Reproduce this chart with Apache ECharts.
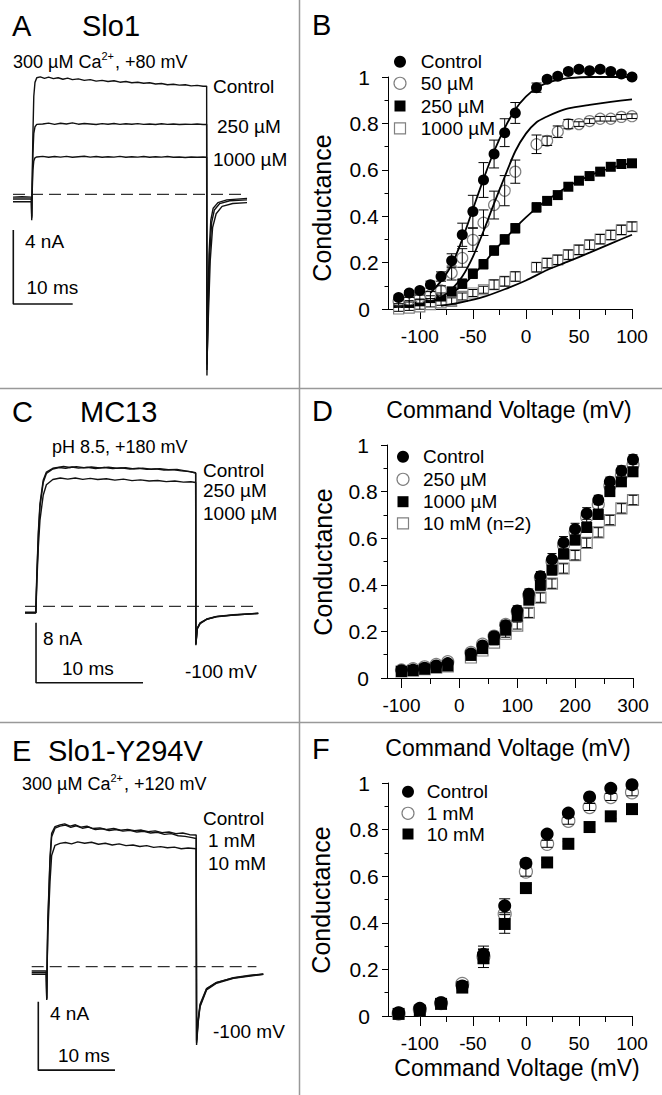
<!DOCTYPE html>
<html>
<head>
<meta charset="utf-8">
<script src="https://cdn.jsdelivr.net/npm/echarts@6/dist/echarts.min.js"></script>
<style>
  html, body { margin: 0; padding: 0; background: #fff; }
  #main { width: 662px; height: 1095px; }
</style>
</head>
<body>
<div id="main"></div>
<script>
var FONT = 'Arial, "Liberation Sans", sans-serif';

// ---- panel B : Slo1 G-V ----
var vB = [-120, -110, -100, -90, -80, -70, -60, -50, -40, -30, -20, -10, 10, 20, 30, 40, 50, 60, 70, 80, 90, 100];
var gB_control = [0.05, 0.069, 0.08, 0.105, 0.14, 0.208, 0.32, 0.42, 0.556, 0.668, 0.76, 0.845, 0.954, 0.99, 1.003, 1.024, 1.033, 1.027, 1.033, 1.024, 1.013, 1.0];
var eB_control = [0.01, 0.01, 0.01, 0.015, 0.02, 0.03, 0.05, 0.07, 0.075, 0.06, 0.06, 0.045, 0.02, 0.01, 0.01, 0.01, 0.01, 0.01, 0.01, 0.01, 0.01, 0.01];
var gB_50 = [0.033, 0.04, 0.05, 0.06, 0.08, 0.155, 0.22, 0.298, 0.372, 0.448, 0.51, 0.592, 0.71, 0.725, 0.764, 0.797, 0.797, 0.81, 0.82, 0.82, 0.828, 0.831];
var eB_50 = [0.01, 0.01, 0.01, 0.015, 0.02, 0.03, 0.04, 0.05, 0.055, 0.06, 0.065, 0.05, 0.04, 0.02, 0.025, 0.02, 0.01, 0.01, 0.01, 0.01, 0.01, 0.01];
var gB_250 = [0.026, 0.026, 0.033, 0.047, 0.054, 0.076, 0.109, 0.152, 0.193, 0.252, 0.30, 0.348, 0.438, 0.466, 0.491, 0.527, 0.553, 0.573, 0.592, 0.613, 0.625, 0.628];
var eB_250 = [0.01, 0.01, 0.01, 0.01, 0.015, 0.015, 0.02, 0.02, 0.02, 0.02, 0.02, 0.02, 0.02, 0.015, 0.015, 0.015, 0.015, 0.015, 0.015, 0.015, 0.015, 0.015];
var gB_1000 = [0.0, 0.004, 0.009, 0.019, 0.026, 0.033, 0.054, 0.069, 0.083, 0.105, 0.119, 0.14, 0.18, 0.198, 0.212, 0.234, 0.255, 0.277, 0.301, 0.319, 0.341, 0.355];
var eB_1000 = [0.01, 0.01, 0.01, 0.01, 0.01, 0.015, 0.015, 0.015, 0.015, 0.02, 0.02, 0.02, 0.02, 0.02, 0.02, 0.02, 0.02, 0.02, 0.02, 0.02, 0.02, 0.02];
// fitted curves
var fitB_control_v = [-90, -80, -70, -60, -50, -40, -30, -20, -10, 0, 10, 20, 30, 40, 60, 100];
var fitB_control_g = [0.07, 0.12, 0.19, 0.30, 0.43, 0.56, 0.68, 0.78, 0.86, 0.915, 0.953, 0.975, 0.988, 0.995, 1.0, 1.0];
var fitB_50_v = [-90, -80, -70, -60, -50, -40, -30, -20, -10, 0, 10, 20, 30, 40, 60, 80, 100];
var fitB_50_g = [0.03, 0.05, 0.085, 0.14, 0.225, 0.335, 0.455, 0.57, 0.68, 0.756, 0.805, 0.83, 0.85, 0.865, 0.88, 0.893, 0.904];
var fitB_250_v = [-70, -60, -50, -40, -30, -20, -10, 0, 10, 20, 30, 40, 50, 60, 70, 80, 90, 100];
var fitB_250_g = [0.07, 0.1, 0.145, 0.195, 0.25, 0.30, 0.35, 0.395, 0.435, 0.47, 0.50, 0.53, 0.553, 0.575, 0.593, 0.607, 0.62, 0.63];
var fitB_1000_v = [-80, -60, -40, -20, 0, 20, 40, 60, 80, 100];
var fitB_1000_g = [0.014, 0.03, 0.052, 0.085, 0.123, 0.168, 0.205, 0.243, 0.282, 0.32];

// ---- panel D : MC13 G-V ----
var vD = [-100, -80, -60, -40, -20, 20, 40, 60, 80, 100, 120, 140, 160, 180, 200, 220, 240, 260, 280, 300];
var gD_control = [0.033, 0.036, 0.044, 0.054, 0.064, 0.105, 0.14, 0.179, 0.226, 0.29, 0.362, 0.437, 0.509, 0.582, 0.639, 0.706, 0.764, 0.842, 0.89, 0.938];
var eD_control = [0.005, 0.005, 0.005, 0.005, 0.005, 0.01, 0.01, 0.015, 0.015, 0.02, 0.02, 0.02, 0.025, 0.025, 0.025, 0.025, 0.02, 0.02, 0.02, 0.02];
var gD_250 = [0.035, 0.04, 0.048, 0.058, 0.07, 0.11, 0.145, 0.18, 0.23, 0.285, 0.355, 0.43, 0.5, 0.57, 0.625, 0.69, 0.745, 0.825, 0.87, 0.915];
var eD_250 = [0.005, 0.005, 0.005, 0.005, 0.005, 0.01, 0.01, 0.015, 0.015, 0.015, 0.02, 0.02, 0.02, 0.02, 0.02, 0.02, 0.02, 0.02, 0.02, 0.02];
var gD_1000 = [0.028, 0.032, 0.038, 0.045, 0.052, 0.097, 0.126, 0.165, 0.205, 0.265, 0.334, 0.398, 0.463, 0.532, 0.592, 0.646, 0.702, 0.80, 0.842, 0.885];
var eD_1000 = [0.005, 0.005, 0.005, 0.005, 0.005, 0.01, 0.01, 0.01, 0.015, 0.015, 0.015, 0.02, 0.02, 0.02, 0.02, 0.02, 0.02, 0.02, 0.02, 0.02];
var gD_10mM = [0.028, 0.032, 0.038, 0.044, 0.05, 0.088, 0.118, 0.152, 0.19, 0.225, 0.28, 0.345, 0.405, 0.47, 0.527, 0.58, 0.625, 0.678, 0.728, 0.764];
var eD_10mM = [0.005, 0.005, 0.005, 0.005, 0.005, 0.01, 0.01, 0.01, 0.015, 0.015, 0.02, 0.02, 0.02, 0.02, 0.02, 0.02, 0.02, 0.02, 0.02, 0.02];

// ---- panel F : Slo1-Y294V G-V ----
var vF = [-120, -100, -80, -60, -40, -20, 0, 20, 40, 60, 80, 100];
var gF_control = [0.014, 0.033, 0.057, 0.129, 0.265, 0.473, 0.656, 0.781, 0.871, 0.94, 0.977, 0.993];
var eF_control = [0.005, 0.005, 0.01, 0.01, 0.035, 0.03, 0.015, 0.01, 0.01, 0.01, 0.01, 0.01];
var gF_1mM = [0.01, 0.028, 0.055, 0.138, 0.255, 0.438, 0.62, 0.739, 0.838, 0.897, 0.94, 0.96];
var eF_1mM = [0.005, 0.005, 0.01, 0.01, 0.03, 0.025, 0.02, 0.015, 0.015, 0.015, 0.015, 0.015];
var gF_10mM = [0.009, 0.023, 0.052, 0.122, 0.248, 0.395, 0.549, 0.659, 0.739, 0.811, 0.857, 0.888];
var eF_10mM = [0.005, 0.005, 0.01, 0.01, 0.04, 0.04, 0.015, 0.01, 0.01, 0.01, 0.01, 0.01];

// ---- current traces, [ms, nA] ----
var trA_control = [[0, -0.15], [1.5, -0.13], [3.1, -0.15], [3.15, -1.4], [3.22, 0.5], [3.35, 3.2], [3.5, 5.3], [3.7, 6.05], [4.0, 6.3], [4.6, 6.35], [5.3, 6.27], [6.0, 6.33], [6.8, 6.25], [7.6, 6.3], [8.4, 6.22], [9.2, 6.28], [10, 6.2], [11, 6.24], [12, 6.16], [13, 6.2], [14, 6.12], [15, 6.16], [16, 6.1], [17, 6.14], [18, 6.06], [19, 6.1], [20, 6.03], [21, 6.06], [22, 6.0], [23, 6.03], [24, 5.96], [25, 5.99], [26, 5.92], [27, 5.95], [28, 5.9], [29, 5.92], [30, 5.86], [31, 5.89], [32, 5.84], [32.6, 5.85], [32.65, -9.8], [32.8, -6.3], [33.0, -3.2], [33.3, -1.4], [33.7, -0.75], [34.5, -0.45], [36, -0.3], [39.4, -0.22]];
var trA_250 = [[0, -0.25], [3.1, -0.25], [3.15, -1.3], [3.22, 0.2], [3.35, 2.2], [3.5, 3.3], [3.7, 3.65], [4.0, 3.78], [5, 3.8], [6, 3.85], [7, 3.78], [8, 3.84], [9, 3.8], [10, 3.86], [11, 3.79], [12, 3.83], [13, 3.8], [14, 3.77], [15, 3.82], [16, 3.79], [17, 3.83], [18, 3.78], [19, 3.81], [20, 3.79], [21, 3.82], [22, 3.78], [23, 3.8], [24, 3.77], [25, 3.81], [26, 3.78], [27, 3.8], [28, 3.77], [29, 3.79], [30, 3.78], [31, 3.8], [32, 3.77], [32.6, 3.78], [32.65, -9.5], [32.85, -6.2], [33.1, -3.3], [33.45, -1.5], [33.9, -0.85], [34.8, -0.5], [36.5, -0.35], [39.4, -0.3]];
var trA_1000 = [[0, -0.4], [3.1, -0.4], [3.15, -1.2], [3.22, 0.0], [3.35, 1.3], [3.5, 1.8], [3.7, 1.97], [4.0, 2.02], [5, 2.05], [6, 2.0], [7, 2.04], [8, 2.01], [9, 2.05], [10, 2.0], [11, 2.03], [12, 2.06], [13, 2.01], [14, 2.04], [15, 2.0], [16, 2.03], [17, 2.01], [18, 2.05], [19, 2.0], [20, 2.03], [21, 2.01], [22, 2.04], [23, 2.0], [24, 2.03], [25, 2.01], [26, 2.04], [27, 2.0], [28, 2.02], [29, 1.99], [30, 2.02], [31, 2.0], [32, 2.02], [32.6, 2.0], [32.65, -9.2], [32.9, -6.5], [33.2, -3.6], [33.6, -1.8], [34.2, -1.05], [35.2, -0.65], [37, -0.5], [39.4, -0.45]];

var trC_control = [[0, -0.85], [1.0, -0.85], [1.03, -0.9], [1.1, 4.0], [1.25, 10.0], [1.4, 13.7], [1.7, 16.8], [2.0, 17.9], [2.6, 18.4], [3.2, 18.55], [3.6, 18.65], [4.2, 18.5], [4.8, 18.62], [5.5, 18.48], [6.2, 18.58], [7.0, 18.45], [7.8, 18.55], [8.6, 18.4], [9.4, 18.48], [10.2, 18.32], [11.0, 18.42], [11.8, 18.28], [12.6, 18.35], [13.4, 18.2], [14.2, 18.25], [15.0, 18.05], [15.6, 17.9], [15.95, 17.8], [15.97, -5.2], [16.1, -3.0], [16.36, -2.27], [16.98, -1.73], [17.9, -1.38], [19.5, -1.16], [21.8, -0.94]];
var trC_250 = [[0, -0.8], [1.0, -0.8], [1.03, -0.9], [1.1, 3.6], [1.25, 9.5], [1.4, 13.3], [1.7, 16.5], [2.0, 17.7], [2.6, 18.3], [3.2, 18.5], [3.8, 18.4], [4.4, 18.58], [5.0, 18.42], [5.8, 18.52], [6.6, 18.38], [7.4, 18.5], [8.2, 18.35], [9.0, 18.45], [9.8, 18.3], [10.6, 18.4], [11.4, 18.25], [12.2, 18.32], [13.0, 18.18], [13.8, 18.22], [14.6, 18.05], [15.4, 17.95], [15.95, 17.75], [15.97, -5.0], [16.1, -2.9], [16.36, -2.2], [16.98, -1.7], [17.9, -1.35], [19.5, -1.13], [21.8, -0.92]];
var trC_1000 = [[0, -0.9], [1.0, -0.9], [1.03, -0.95], [1.1, 3.0], [1.25, 8.0], [1.4, 11.5], [1.7, 14.8], [2.0, 16.2], [2.6, 16.9], [3.3, 17.1], [4.0, 16.95], [4.7, 17.1], [5.4, 16.92], [6.1, 17.05], [6.8, 16.9], [7.6, 17.0], [8.4, 16.82], [9.2, 16.95], [10.0, 16.75], [10.8, 16.85], [11.6, 16.7], [12.4, 16.78], [13.2, 16.62], [14.0, 16.7], [14.8, 16.55], [15.5, 16.6], [15.95, 16.5], [15.97, -5.1], [16.1, -3.0], [16.36, -2.3], [16.98, -1.75], [17.9, -1.4], [19.5, -1.18], [21.8, -0.96]];

var trE_control = [[0, -0.25], [1.9, -0.25], [1.96, -1.95], [2.0, -0.4], [2.09, 2.54], [2.39, 6.43], [2.6, 7.8], [3.04, 8.19], [3.69, 8.29], [4.3, 8.35], [5.0, 8.22], [5.7, 8.3], [6.4, 8.16], [7.2, 8.22], [8.0, 8.08], [8.9, 8.12], [9.8, 8.02], [10.7, 8.08], [11.6, 7.98], [12.5, 8.03], [13.4, 7.96], [14.3, 7.99], [15.2, 7.9], [16.1, 7.94], [17.0, 7.84], [17.9, 7.88], [18.8, 7.78], [19.7, 7.82], [20.6, 7.72], [21.45, 7.7], [21.5, -4.58], [21.7, -3.3], [21.95, -2.34], [22.8, -1.36], [24.1, -0.97], [26.3, -0.68], [28.5, -0.54], [30.2, -0.45]];
var trE_1mM = [[0, -0.45], [1.9, -0.45], [1.96, -1.9], [2.0, -0.45], [2.09, 2.3], [2.39, 6.2], [2.6, 7.6], [3.04, 8.1], [3.69, 8.22], [4.4, 8.28], [5.1, 8.15], [5.8, 8.24], [6.6, 8.1], [7.4, 8.16], [8.3, 8.02], [9.2, 8.07], [10.1, 7.96], [11.0, 8.02], [11.9, 7.93], [12.8, 7.97], [13.7, 7.88], [14.6, 7.92], [15.5, 7.82], [16.4, 7.86], [17.3, 7.74], [18.2, 7.78], [19.1, 7.66], [20.0, 7.62], [20.9, 7.55], [21.45, 7.5], [21.5, -4.45], [21.7, -3.2], [21.95, -2.28], [22.8, -1.3], [24.1, -0.93], [26.3, -0.64], [28.5, -0.5], [30.2, -0.42]];
var trE_10mM = [[0, -0.35], [1.9, -0.35], [1.96, -1.85], [2.0, -0.4], [2.09, 1.8], [2.39, 5.0], [2.6, 6.5], [3.04, 7.1], [3.69, 7.21], [4.4, 7.26], [5.2, 7.18], [6.0, 7.3], [6.9, 7.22], [7.8, 7.28], [8.7, 7.16], [9.6, 7.22], [10.5, 7.12], [11.4, 7.18], [12.3, 7.08], [13.2, 7.12], [14.1, 7.03], [15.0, 7.08], [15.9, 6.98], [16.8, 7.02], [17.7, 6.96], [18.6, 6.99], [19.5, 6.9], [20.4, 6.94], [21.45, 6.9], [21.5, -4.3], [21.7, -3.1], [21.95, -2.2], [22.8, -1.28], [24.1, -0.92], [26.3, -0.66], [28.5, -0.52], [30.2, -0.44]];

// zero-current reference and scale bars
var zeroA = [[0, 0], [39.4, 0]];
var zeroC = [[0, 0], [21.8, 0]];
var zeroE = [[0, 0], [29.3, 0]];
var barA = [[0.05, -1.93], [0.05, -5.93], [10.05, -5.93]];
var barC = [[1.03, -2.2], [1.03, -10.2], [11.03, -10.2]];
var barE = [[0.86, -2.05], [0.86, -6.05], [10.86, -6.05]];

function zip(xs, ys) { return xs.map(function (x, i) { return [x, ys[i]]; }); }
function zip3(xs, ys, es) { return xs.map(function (x, i) { return [x, ys[i], es[i]]; }); }

var chart = echarts.init(document.getElementById('main'), null, { renderer: 'svg', width: 662, height: 1095 });

// grids: 0 B, 1 D, 2 F, 3 A, 4 C, 5 E, 6-8 copies of B/D/F carrying the minor x ticks
var rectB = { left: 388, top: 77, width: 244, height: 232 };
var rectD = { left: 387, top: 445, width: 246, height: 233 };
var rectF = { left: 388, top: 783, width: 244, height: 233 };
var grids = [
  rectB, rectD, rectF,
  { left: 13, top: 46.3, width: 237.6, height: 370 },
  { left: 25, top: 441.3, width: 256.8, height: 255 },
  { left: 31.7, top: 795.7, width: 245.4, height: 290.7 },
  Object.assign({}, rectB), Object.assign({}, rectD), Object.assign({}, rectF)
];
grids.forEach(function (g) { g.containLabel = false; g.outerBoundsMode = 'none'; g.show = false; });

function majorX(gi, min, max, vals) {
  return {
    gridIndex: gi, type: 'value', min: min, max: max, position: 'bottom',
    axisLine: { show: true, onZero: false, lineStyle: { color: '#000', width: 1 } },
    axisTick: { show: true, length: 10, customValues: vals, lineStyle: { color: '#000', width: 1 } },
    axisLabel: { show: true, customValues: vals, margin: 18, fontSize: 19, fontFamily: FONT, color: '#000' },
    splitLine: { show: false }
  };
}
function minorX(gi, min, max, vals) {
  return {
    gridIndex: gi, type: 'value', min: min, max: max, position: 'bottom',
    axisLine: { show: false, onZero: false },
    axisTick: { show: true, length: 6, customValues: vals, lineStyle: { color: '#000', width: 1 } },
    axisLabel: { show: false },
    splitLine: { show: false }
  };
}
function condY(gi) {
  return {
    gridIndex: gi, type: 'value', min: 0, max: 1, interval: 0.2, position: 'left',
    axisLine: { show: true, onZero: false, lineStyle: { color: '#000', width: 1 } },
    axisTick: { show: true, length: 6, lineStyle: { color: '#000', width: 1 } },
    minorTick: { show: true, splitNumber: 2, length: 3.5, lineStyle: { color: '#000', width: 1 } },
    axisLabel: {
      margin: 24, align: 'center', fontSize: 21, fontFamily: FONT, color: '#000',
      formatter: function (v) { return String(Math.round(v * 10) / 10); }
    },
    splitLine: { show: false }, minorSplitLine: { show: false }
  };
}
function hiddenAxis(gi, min, max) {
  return { gridIndex: gi, type: 'value', min: min, max: max, show: false, splitLine: { show: false } };
}

var xAxes = [
  majorX(0, -130, 100, [-100, -50, 0, 50, 100]),
  majorX(1, -125, 300, [-100, 0, 100, 200, 300]),
  majorX(2, -130, 100, [-100, -50, 0, 50, 100]),
  hiddenAxis(3, 0, 40), hiddenAxis(4, 0, 24), hiddenAxis(5, 0, 32),
  minorX(6, -130, 100, [-75, -25, 25, 75]),
  minorX(7, -125, 300, [-50, 50, 150, 250]),
  minorX(8, -130, 100, [-75, -25, 25, 75])
];
var yAxes = [
  condY(0), condY(1), condY(2),
  hiddenAxis(3, -12, 8), hiddenAxis(4, -12, 22), hiddenAxis(5, -7, 10),
  hiddenAxis(6, 0, 1), hiddenAxis(7, 0, 1), hiddenAxis(8, 0, 1)
];

var series = [];
function dots(panel, name, xs, ys, shape, size, open) {
  series.push({
    name: name, type: 'scatter', xAxisIndex: panel, yAxisIndex: panel,
    data: zip(xs, ys), symbol: shape, symbolSize: size, clip: false, silent: true,
    itemStyle: open ? { color: '#fff', borderColor: '#808080', borderWidth: 1.2, opacity: 1 }
                    : { color: '#000', borderWidth: 0, opacity: 1 }
  });
}
function errs(panel, xs, ys, es, cap) {
  series.push({
    type: 'custom', xAxisIndex: panel, yAxisIndex: panel, clip: false, silent: true, z: 5,
    data: zip3(xs, ys, es), encode: { x: 0, y: 1 },
    renderItem: function (params, api) {
      var x = api.value(0), y = api.value(1), e = api.value(2);
      var hi = api.coord([x, y + e]), lo = api.coord([x, y - e]);
      var h = cap / 2, st = { stroke: '#000', lineWidth: 1, fill: null };
      return { type: 'group', children: [
        { type: 'line', shape: { x1: hi[0], y1: hi[1], x2: lo[0], y2: lo[1] }, style: st },
        { type: 'line', shape: { x1: hi[0] - h, y1: hi[1], x2: hi[0] + h, y2: hi[1] }, style: st },
        { type: 'line', shape: { x1: lo[0] - h, y1: lo[1], x2: lo[0] + h, y2: lo[1] }, style: st }
      ] };
    }
  });
}
function fit(xs, ys) {
  series.push({
    type: 'line', xAxisIndex: 0, yAxisIndex: 0, data: zip(xs, ys), showSymbol: false, symbol: 'none',
    smooth: 0.25, clip: false, silent: true, z: 4,
    lineStyle: { color: '#000', width: 1.8 }
  });
}
function trace(panel, data, dashed, width) {
  series.push({
    type: 'line', xAxisIndex: panel + 3, yAxisIndex: panel + 3, data: data, showSymbol: false, symbol: 'none',
    clip: false, silent: true,
    lineStyle: dashed ? { color: '#000', width: 1, type: [12, 6] } : { color: '#111', width: width || 1.4 }
  });
}

// B
dots(0, '1000 µM', vB, gB_1000, 'rect', 10, true);
dots(0, '250 µM', vB, gB_250, 'rect', 10, false);
dots(0, '50 µM', vB, gB_50, 'circle', 11, true);
dots(0, 'Control', vB, gB_control, 'circle', 11, false);
fit(fitB_control_v, fitB_control_g);
fit(fitB_50_v, fitB_50_g);
fit(fitB_250_v, fitB_250_g);
fit(fitB_1000_v, fitB_1000_g);
errs(0, vB, gB_1000, eB_1000, 9);
errs(0, vB, gB_250, eB_250, 9);
errs(0, vB, gB_50, eB_50, 10);
errs(0, vB, gB_control, eB_control, 10);
// D
dots(1, '10 mM (n=2)', vD, gD_10mM, 'rect', 11, true);
dots(1, '250 µM', vD, gD_250, 'circle', 12, true);
dots(1, 'Control', vD, gD_control, 'circle', 12, false);
dots(1, '1000 µM', vD, gD_1000, 'rect', 11, false);
errs(1, vD, gD_10mM, eD_10mM, 9);
errs(1, vD, gD_250, eD_250, 9);
errs(1, vD, gD_control, eD_control, 9);
errs(1, vD, gD_1000, eD_1000, 9);
// F
dots(2, '1 mM', vF, gF_1mM, 'circle', 13, true);
dots(2, 'Control', vF, gF_control, 'circle', 13, false);
dots(2, '10 mM', vF, gF_10mM, 'rect', 12, false);
errs(2, vF, gF_1mM, eF_1mM, 11);
errs(2, vF, gF_control, eF_control, 11);
errs(2, vF, gF_10mM, eF_10mM, 11);
// traces
trace(0, zeroA, true); trace(0, trA_control); trace(0, trA_250); trace(0, trA_1000); trace(0, barA, false, 1.6);
trace(1, zeroC, true); trace(1, trC_control); trace(1, trC_250); trace(1, trC_1000); trace(1, barC, false, 1.6);
trace(2, zeroE, true); trace(2, trE_control); trace(2, trE_1mM); trace(2, trE_10mM); trace(2, barE, false, 1.6);

// ---- text and decorations ----
var mctx = document.createElement('canvas').getContext('2d');
function textW(str, size) { mctx.font = size + 'px ' + FONT; return mctx.measureText(str).width; }
var graphics = [];
function txt(x, y, str, size, align, rot) {
  graphics.push({
    type: 'text', x: x, y: y, rotation: rot || 0, z: 100, silent: true,
    style: {
      text: str, fill: '#000', font: size + 'px ' + FONT,
      textAlign: align || 'left', textVerticalAlign: 'middle',
      align: align || 'left', verticalAlign: 'middle'
    }
  });
}
function supLine(x, y, parts) {
  var cx = x;
  parts.forEach(function (p) {
    var size = p[1] ? 11 : 18;
    txt(cx, p[1] ? y - 6 : y, p[0], size, 'left');
    cx += textW(p[0], size) + (p[1] ? 1 : 0);
  });
}
function hline(x1, y1, x2, y2) {
  graphics.push({ type: 'line', z: 90, silent: true, shape: { x1: x1, y1: y1, x2: x2, y2: y2 },
    style: { stroke: '#999', lineWidth: 1.5 } });
}
function legMark(x, y, shape, size, open) {
  var st = open ? { fill: '#fff', stroke: '#808080', lineWidth: 1.2 } : { fill: '#000', stroke: null };
  if (shape === 'circle') graphics.push({ type: 'circle', z: 100, silent: true, shape: { cx: x, cy: y, r: size / 2 }, style: st });
  else graphics.push({ type: 'rect', z: 100, silent: true, shape: { x: x - size / 2, y: y - size / 2, width: size, height: size }, style: st });
}

// separators
hline(299.5, 0, 299.5, 1095);
hline(0, 388.5, 662, 388.5);
hline(0, 722.5, 662, 722.5);

// panel letters and titles
txt(12, 26, 'A', 29); txt(82, 26, 'Slo1', 29);
txt(312, 25, 'B', 29);
txt(12, 412, 'C', 29); txt(80, 412, 'MC13', 29);
txt(312, 411, 'D', 29);
txt(12, 751, 'E', 29); txt(48, 751, 'Slo1-Y294V', 29);
txt(312, 749, 'F', 29);

supLine(13, 62, [['300 µM Ca', false], ['2+', true], [', +80 mV', false]]);
txt(52, 447, 'pH 8.5, +180 mV', 18);
supLine(22, 783.5, [['300 µM Ca', false], ['2+', true], [', +120 mV', false]]);

// trace labels
txt(213, 86, 'Control', 19); txt(217, 126, '250 µM', 19); txt(213, 159.5, '1000 µM', 19);
txt(25, 241.5, '4 nA', 19); txt(26.5, 287.5, '10 ms', 19);
txt(203, 470, 'Control', 19); txt(203, 490.5, '250 µM', 19); txt(203, 513.5, '1000 µM', 19);
txt(43, 638, '8 nA', 19); txt(62, 668, '10 ms', 19); txt(185, 671.5, '-100 mV', 19);
txt(203, 818, 'Control', 19); txt(208, 840, '1 mM', 19); txt(208, 863, '10 mM', 19);
txt(50, 1013, '4 nA', 19); txt(58, 1055, '10 ms', 19); txt(213, 1031.5, '-100 mV', 19);

// axis titles
txt(321.5, 208, 'Conductance', 25, 'center', Math.PI / 2);
txt(322.5, 562, 'Conductance', 25, 'center', Math.PI / 2);
txt(321, 900, 'Conductance', 25, 'center', Math.PI / 2);
txt(509, 410, 'Command Voltage (mV)', 23, 'center');
txt(508, 748, 'Command Voltage (mV)', 23, 'center');
txt(517, 1068, 'Command Voltage (mV)', 23, 'center');

// legends
var legB = [['Control', 'circle', false], ['50 µM', 'circle', true], ['250 µM', 'rect', false], ['1000 µM', 'rect', true]];
var legBy = [61.7, 83.3, 106, 128.3];
legB.forEach(function (l, i) { legMark(400, legBy[i], l[1], l[1] === 'circle' ? 12 : 11, l[2]); txt(420.7, legBy[i], l[0], 19); });
var legD = [['Control', 'circle', false], ['250 µM', 'circle', true], ['1000 µM', 'rect', false], ['10 mM (n=2)', 'rect', true]];
var legDy = [456.7, 479.3, 501.7, 523.3];
legD.forEach(function (l, i) { legMark(403, legDy[i], l[1], l[1] === 'circle' ? 12 : 11, l[2]); txt(423, legDy[i], l[0], 19); });
var legF = [['Control', 'circle', false], ['1 mM', 'circle', true], ['10 mM', 'rect', false]];
var legFy = [791.7, 813.3, 834];
legF.forEach(function (l, i) { legMark(408, legFy[i], l[1], l[1] === 'circle' ? 12 : 11, l[2]); txt(426.7, legFy[i], l[0], 19); });

chart.setOption({
  animation: false,
  backgroundColor: '#fff',
  textStyle: { fontFamily: FONT },
  grid: grids,
  xAxis: xAxes,
  yAxis: yAxes,
  series: series,
  graphic: { elements: graphics }
});
</script>
</body>
</html>
